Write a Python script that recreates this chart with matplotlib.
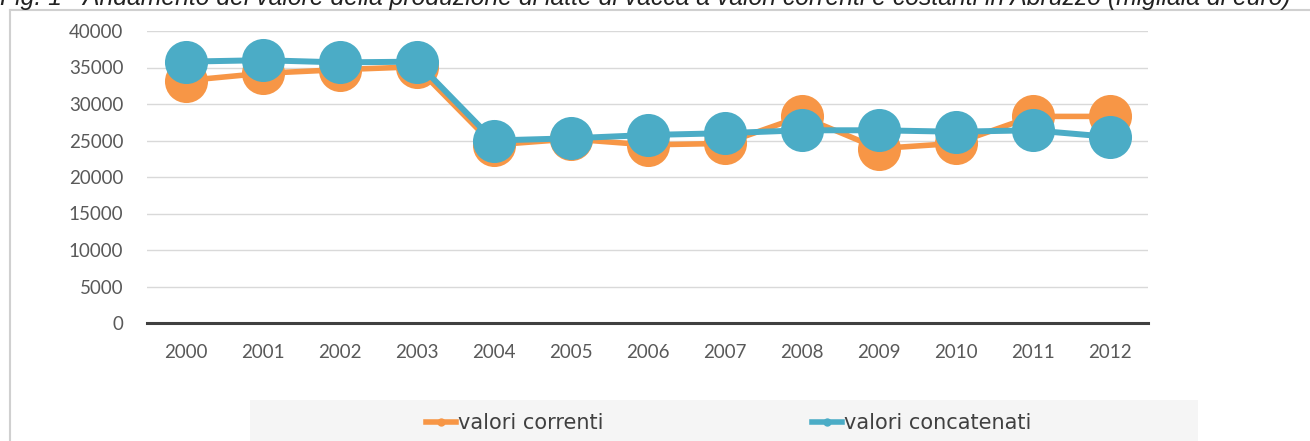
import matplotlib
matplotlib.use("Agg")
import matplotlib.pyplot as plt
from matplotlib.lines import Line2D
from matplotlib.patches import Rectangle

years = ["2000", "2001", "2002", "2003", "2004", "2005", "2006", "2007",
         "2008", "2009", "2010", "2011", "2012"]
valori_correnti = [33200, 34200, 34700, 35100, 24400, 25200, 24400, 24600,
                   28300, 23900, 24600, 28300, 28300]
valori_concatenati = [35800, 36000, 35700, 35800, 25000, 25300, 25750, 26000,
                      26400, 26400, 26200, 26400, 25500]
yticks = [0, 5000, 10000, 15000, 20000, 25000, 30000, 35000, 40000]
title = ("Fig. 1 - Andamento del valore della produzione di latte di vacca a "
         "valori correnti e costanti in Abruzzo (migliaia di euro)")

W, H = 1310, 441
fig = plt.figure(figsize=(W / 100, H / 100), dpi=100)

def fx(px):
    return px / W

def fy(py):
    return 1 - py / H

orange = "#F79646"
blue = "#4BACC6"

# outer frame (partial)
fig.add_artist(Line2D([fx(10), 1], [fy(10), fy(10)], color="#d0d0d0", lw=1.5))
fig.add_artist(Line2D([fx(10), fx(10)], [fy(10), 0], color="#d0d0d0", lw=1.5))

# legend background
fig.add_artist(Rectangle((fx(250), 0), fx(1198) - fx(250), fy(400), color="#f5f5f5", lw=0, zorder=0))

fig.text(0.0, fy(5), title, fontsize=17.8, style="italic", family="Liberation Sans",
         ha="left", va="baseline", color="#222222")

ax = fig.add_axes([fx(147), fy(323), fx(1148) - fx(147), fy(31) - fy(323)])
ax.set_facecolor("none")
x = list(range(len(years)))
ax.plot(x, valori_correnti, color=orange, lw=4.0, marker="o", markersize=31,
        markeredgewidth=0, clip_on=False, zorder=3)
ax.plot(x, valori_concatenati, color=blue, lw=4.3, marker="o", markersize=31,
        markeredgewidth=0, clip_on=False, zorder=4)

ax.set_xlim(-0.5, 12.5)
ax.set_ylim(0, 40000)
ax.set_yticks(yticks)
ax.set_yticklabels([str(v) for v in yticks])
ax.set_xticks(x)
ax.set_xticklabels(years)
for s in ["top", "right", "left"]:
    ax.spines[s].set_visible(False)
ax.spines["bottom"].set_color("#404040")
ax.spines["bottom"].set_linewidth(2.2)
ax.grid(axis="y", color="#d9d9d9", lw=1)
ax.set_axisbelow(True)
ax.tick_params(axis="both", length=0, labelsize=13.5, labelcolor="#595959")
ax.tick_params(axis="x", pad=15)
ax.tick_params(axis="y", pad=17)
for lab in ax.get_xticklabels() + ax.get_yticklabels():
    lab.set_family("Lato")

handles = [Line2D([], [], color=orange, lw=4, marker="o", markersize=6, markeredgewidth=0),
           Line2D([], [], color=blue, lw=4, marker="o", markersize=6, markeredgewidth=0)]
leg = fig.legend(handles, ["valori correnti", "valori concatenati"], ncol=2,
                 loc="center", bbox_to_anchor=(fx(729), fy(423)), frameon=False,
                 prop={"family": "DejaVu Sans", "size": 15},
                 handlelength=1.44, handletextpad=0.1, columnspacing=10)
for t in leg.get_texts():
    t.set_color("#404040")

fig.savefig("out.png", dpi=100)
